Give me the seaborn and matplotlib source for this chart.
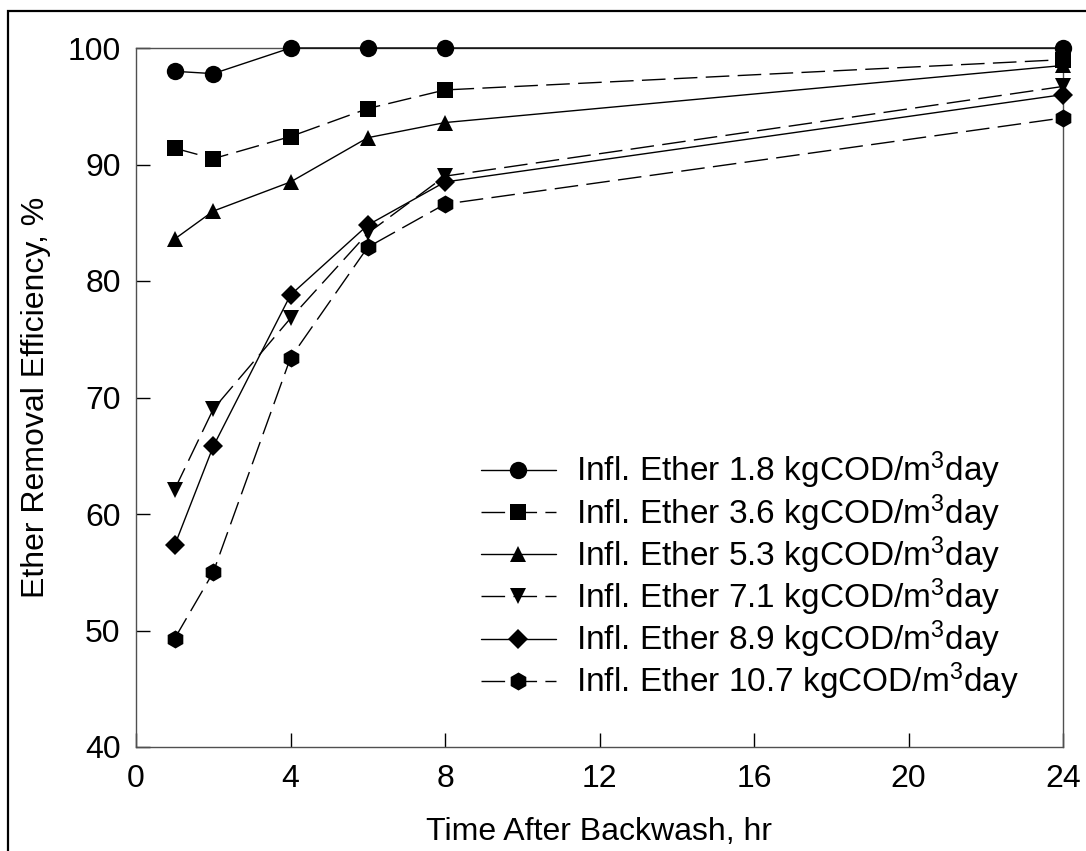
import matplotlib
matplotlib.use("Agg")
import matplotlib.pyplot as plt
from matplotlib.patches import Rectangle
import seaborn as sns
import pandas as pd

# Sampling times after backwash (hr)
hours = [1, 2, 4, 6, 8, 24]

# Ether removal efficiency (%) for each influent loading
eff_1_8 = [98.0, 97.8, 100.0, 100.0, 100.0, 100.0]
eff_3_6 = [91.4, 90.5, 92.4, 94.8, 96.4, 99.0]
eff_5_3 = [83.6, 86.0, 88.5, 92.3, 93.6, 98.5]
eff_7_1 = [62.1, 69.0, 76.8, 84.1, 89.0, 96.7]
eff_8_9 = [57.3, 65.8, 78.8, 84.8, 88.5, 96.0]
eff_10_7 = [49.3, 55.0, 73.4, 82.9, 86.6, 94.0]

loadings = ["1.8", "3.6", "5.3", "7.1", "8.9", "10.7"]
series = [eff_1_8, eff_3_6, eff_5_3, eff_7_1, eff_8_9, eff_10_7]

x_ticks = [0, 4, 8, 12, 16, 20, 24]
y_ticks = [40, 50, 60, 70, 80, 90, 100]

sns.set_theme(style="white")
plt.rcParams["font.family"] = ["Liberation Sans", "DejaVu Sans"]
plt.rcParams["mathtext.fontset"] = "custom"
plt.rcParams["mathtext.rm"] = "Liberation Sans"
plt.rcParams["mathtext.it"] = "Liberation Sans"
for key in ["text.color", "axes.labelcolor", "xtick.color", "ytick.color"]:
    plt.rcParams[key] = "black"

W, H = 1086, 851
fig = plt.figure(figsize=(W / 100, H / 100), dpi=100)
ax = fig.add_axes([136 / W, 1 - 747 / H, (1063 - 136) / W, (747 - 48) / H])

dash = (0, (17, 6))
styles = [
    dict(marker="o", markersize=12.5, linestyle="-"),
    dict(marker="s", markersize=11, linestyle=dash),
    dict(marker="^", markersize=11.5, linestyle="-"),
    dict(marker="v", markersize=11.5, linestyle=dash),
    dict(marker="D", markersize=10, linestyle="-"),
    dict(marker="h", markersize=13, linestyle=dash),
]

for load, vals, st in zip(loadings, series, styles):
    df = pd.DataFrame({"hours": hours, "eff": vals})
    label = f"Infl. Ether {load} kgCOD/m$^3$day"
    sns.lineplot(data=df, x="hours", y="eff", ax=ax, color="black",
                 linewidth=1.0, marker=st["marker"],
                 markersize=st["markersize"], markeredgewidth=0,
                 markerfacecolor="black", linestyle=st["linestyle"],
                 label=label, clip_on=False, zorder=3)

ax.set_xlim(0, 24)
ax.set_ylim(40, 100)
ax.set_xticks(x_ticks)
ax.set_yticks(y_ticks)
ax.tick_params(axis="both", direction="in", length=10, width=1,
               color="black", labelsize=23,
               top=False, right=False, bottom=True, left=True)
ax.tick_params(axis="x", pad=12)
ax.tick_params(axis="y", pad=11)
for sp in ax.spines.values():
    sp.set_color("#505050")
    sp.set_linewidth(1.0)
    sp.set_visible(True)

ax.set_xlabel("Time After Backwash, hr", fontsize=23, labelpad=17)
ax.set_ylabel("Ether Removal Efficiency, %", fontsize=23, labelpad=12)

leg = ax.legend(loc="upper left", bbox_to_anchor=(0.372, 0.425),
                frameon=False, fontsize=24, handlelength=2.25,
                handletextpad=0.6, labelspacing=0.02,
                borderpad=0, borderaxespad=0)

# Outer frame around the figure
fig.patches.append(Rectangle((8 / W, -0.1), 1.2, (H - 11) / H + 0.1,
                             transform=fig.transFigure, fill=False,
                             edgecolor="black", linewidth=1.6))

fig.savefig("out.png", dpi=100)
